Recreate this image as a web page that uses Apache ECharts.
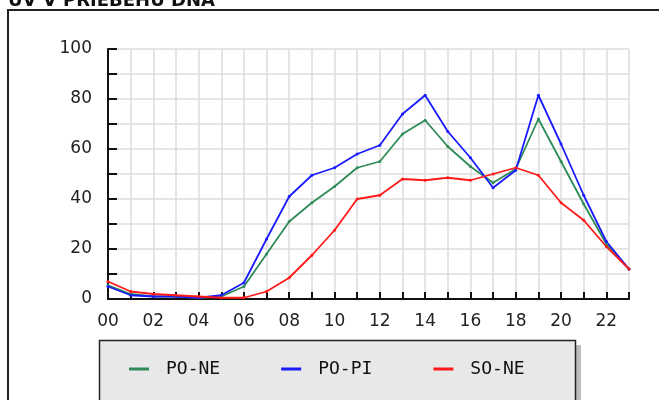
<!DOCTYPE html>
<html>
<head>
<meta charset="utf-8">
<script src="https://cdn.jsdelivr.net/npm/echarts@6/dist/echarts.min.js"></script>
<style>html,body{margin:0;padding:0;background:#fff;}#c{width:659px;height:400px;}</style>
</head>
<body>
<div id="c"></div>
<script>
const hours = ['00','01','02','03','04','05','06','07','08','09','10','11','12','13','14','15','16','17','18','19','20','21','22','23'];
const seriesNames = ['PO-NE','PO-PI','SO-NE'];
const poNe = [5.5, 2, 1, 1, 0.5, 1, 5, 18, 31, 38.5, 45, 52.5, 55, 66, 71.5, 61, 53, 46.5, 52, 72, 55, 38, 22, 12];
const poPi = [5, 1.5, 1, 1, 0.5, 1.5, 6.5, 24, 41, 49.5, 52.5, 58, 61.5, 74, 81.5, 67, 56.5, 44.5, 51.5, 81.5, 62, 41.5, 23, 12];
const soNe = [7, 3, 2, 1.5, 1, 0.5, 0.5, 3, 8.5, 17.5, 27.5, 40, 41.5, 48, 47.5, 48.5, 47.5, 50, 52.5, 49.5, 38.5, 31.5, 21, 12];
const colors = ['#2e8b57','#1a1aff','#ff1a1a'];
const titleText = 'UV V PRIEBEHU DŇA';

const chart = echarts.init(document.getElementById('c'), null, {renderer:'canvas'});
const mk = (name, data, color) => ({
  name, type:'line', data, color,
  symbol:'circle', symbolSize:3, showSymbol:true,
  lineStyle:{width:1.8, color}, itemStyle:{color},
  animation:false
});
chart.setOption({
  animation:false,
  graphic:[
    {type:'rect', shape:{x:8, y:10, width:700, height:500}, style:{fill:'none', stroke:'#222', lineWidth:2}, z:-10},
    {type:'rect', shape:{x:105, y:345, width:476, height:80}, style:{fill:'#bdbdbd'}, z:-5},
    {type:'rect', shape:{x:99.5, y:340.5, width:476, height:80}, style:{fill:'#e8e8e8', stroke:'#222', lineWidth:1.5}, z:-4},
    {type:'text', x:8, y:10, style:{text:titleText, font:'bold 18px "DejaVu Sans"', fill:'#111', textVerticalAlign:'bottom'}}
  ],
  grid:{left:108, right:30, top:49, bottom:101, containLabel:false},
  legend:{
    data:seriesNames, left:129, top:360, padding:0, icon:'rect', itemWidth:20, itemHeight:3,
    itemGap:61, textStyle:{fontFamily:'DejaVu Sans Mono', fontSize:18, color:'#111', padding:[0,0,0,12]},
    selectedMode:false
  },
  xAxis:{
    type:'category', data:hours, boundaryGap:false,
    axisLine:{lineStyle:{color:'#111', width:2}},
    axisTick:{show:true, inside:true, length:7, interval:0, lineStyle:{color:'#111', width:2}},
    axisLabel:{interval:1, color:'#222', fontFamily:'DejaVu Sans', fontSize:17, margin:14},
    splitLine:{show:true, interval:0, lineStyle:{color:'#dddddd', width:1.5}}
  },
  yAxis:{
    type:'value', min:0, max:100, interval:10,
    axisLine:{show:true, lineStyle:{color:'#111', width:2}},
    axisTick:{show:true, inside:true, length:9, lineStyle:{color:'#111', width:2}},
    axisLabel:{color:'#222', fontFamily:'DejaVu Sans', fontSize:17, margin:16, formatter:v => (v % 20 === 0 ? String(v) : '')},
    splitLine:{show:true, lineStyle:{color:'#dddddd', width:1.5}}
  },
  series:[mk(seriesNames[0], poNe, colors[0]), mk(seriesNames[1], poPi, colors[1]), mk(seriesNames[2], soNe, colors[2])]
});
</script>
</body>
</html>
